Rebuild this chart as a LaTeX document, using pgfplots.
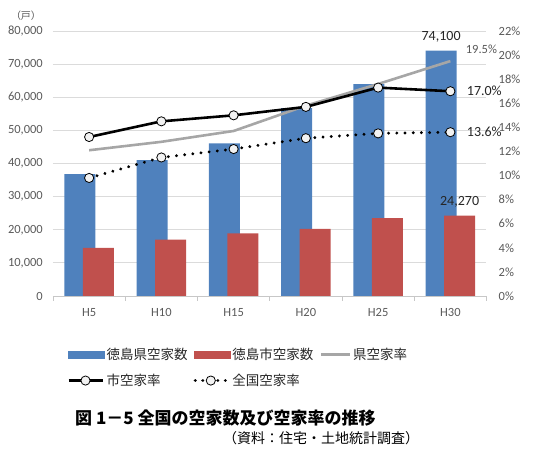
\documentclass[border=0pt]{standalone}
\usepackage{fontspec}
\setmainfont{Carlito}
\newfontfamily\jp{Noto Sans CJK JP}
\usepackage{pgfplots}
\pgfplotsset{compat=1.18}

\definecolor{barblue}{HTML}{4F81BD}
\definecolor{barred}{HTML}{C0504D}
\definecolor{linegrey}{HTML}{A6A6A6}
\definecolor{ticktext}{HTML}{595959}
\definecolor{markfill}{HTML}{F2F2F2}

\pgfplotsset{
  common/.style={
    at={(53pt,154pt)}, anchor=south west,
    scale only axis, width=433.5pt, height=265pt,
    xmin=-0.5, xmax=5.5, clip=false,
    /pgf/number format/assume math mode=true,
    tick label style={font=\fontsize{12.5}{14}\selectfont, text=ticktext},
  },
  rate/.style={line width=2.6pt, mark=*, mark size=4.6pt,
    mark options={solid, fill=markfill, draw=black, line width=0.8pt}},
}

\begin{document}
\begin{tikzpicture}
\useasboundingbox (0,0) rectangle (550pt,450pt);

% counts (left axis)
\begin{axis}[common,
    ymin=0, ymax=80000, ytick={0,10000,...,80000},
    /pgf/number format/.cd, 1000 sep={,}, /pgfplots/.cd,
    scaled y ticks=false,
    axis x line*=bottom, axis y line*=left,
    y axis line style={draw=none},
    x axis line style={draw=black!22, line width=0.8pt},
    ymajorgrids, grid style={draw=black!14, line width=0.8pt},
    ytick style={draw=none}, xtick style={draw=none},
    yticklabel style={inner sep=0pt, xshift=-10pt},
    xtick={0,...,5}, xticklabels={H5,H10,H15,H20,H25,H30},
    xticklabel style={inner sep=0pt, yshift=-12pt},
    extra x ticks={-0.5,0.5,1.5,2.5,3.5,4.5,5.5},
    extra x tick labels={},
    extra x tick style={major tick length=5pt, tick align=outside,
      xtick style={draw=black!22, line width=0.8pt}},
]
% 徳島県空家数
\addplot[ybar, fill=barblue, draw=none, bar width=0.43, bar shift=-0.128] coordinates {
  (0,36800) (1,41000) (2,46100) (3,56700) (4,64000) (5,74100)
};
% 徳島市空家数
\addplot[ybar, fill=barred, draw=none, bar width=0.43, bar shift=0.128] coordinates {
  (0,14500) (1,17000) (2,18900) (3,20300) (4,23500) (5,24270)
};
\node[anchor=base, font=\fontsize{14}{16}\selectfont, text=black!85, yshift=10pt]
  at (axis cs:4.872,74100) {74,100};
\node[anchor=base, font=\fontsize{14}{16}\selectfont, text=black!85, yshift=10pt]
  at (axis cs:5.128,24270) {24,270};
\end{axis}

% rates (right axis)
\begin{axis}[common,
    ymin=0, ymax=22, ytick={0,2,...,22},
    yticklabel={\pgfmathprintnumber{\tick}\%},
    axis x line=none, axis y line*=right,
    y axis line style={draw=none}, ytick style={draw=none},
    yticklabel style={inner sep=0pt, xshift=12pt},
    legend columns=3,
    legend cell align=left,
    legend style={at={(axis description cs:0,0)}, anchor=north west,
      xshift=14pt, yshift=-50pt, draw=none, fill=none, inner sep=0pt,
      font=\jp\fontsize{13.5}{16}\selectfont, text=black!85,
      row sep=9pt,
      /tikz/every even column/.append style={column sep=4pt}},
]
\addlegendimage{legend image code/.code={\fill[barblue] (0pt,-3.5pt) rectangle (36pt,3.5pt);}}
\addlegendentry{徳島県空家数}
\addlegendimage{legend image code/.code={\fill[barred] (0pt,-3.5pt) rectangle (36pt,3.5pt);}}
\addlegendentry{徳島市空家数}
% 県空家率
\addplot[linegrey, line width=2.6pt,
  legend image code/.code={\draw[linegrey, line width=2.6pt] (0pt,0pt) -- (29pt,0pt);}]
  coordinates {(0,12.1) (1,12.8) (2,13.7) (3,15.8) (4,17.6) (5,19.5)};
\addlegendentry{県空家率}
% 市空家率
\addplot[black, rate,
  legend image code/.code={
    \draw[black, line width=2.6pt] (0pt,0pt) -- (34pt,0pt);
    \draw[solid, fill=markfill, draw=black, line width=0.8pt] (17pt,0pt) circle (4.6pt);}]
  coordinates {(0,13.2) (1,14.5) (2,15.0) (3,15.7) (4,17.3) (5,17.0)};
\addlegendentry{市空家率}
% 全国空家率
\addplot[black, rate, line width=3.2pt, line cap=round, dash pattern=on 0.01pt off 8.2pt,
  legend image code/.code={
    \draw[black, line width=3.2pt, line cap=round, dash pattern=on 0.01pt off 7.5pt] (1pt,0pt) -- (33pt,0pt);
    \draw[solid, fill=markfill, draw=black, line width=0.8pt] (16.5pt,0pt) circle (4.6pt);}]
  coordinates {(0,9.8) (1,11.5) (2,12.2) (3,13.1) (4,13.5) (5,13.6)};
\addlegendentry{全国空家率}

\node[anchor=west, font=\fontsize{12.5}{14}\selectfont, text=ticktext, xshift=12pt, yshift=12pt]
  at (axis cs:5,19.5) {19.5\%};
\node[anchor=west, font=\fontsize{14}{16}\selectfont, text=black!85, xshift=13pt]
  at (axis cs:5,17.0) {17.0\%};
\node[anchor=west, font=\fontsize{14}{16}\selectfont, text=black!85, xshift=13pt]
  at (axis cs:5,13.6) {13.6\%};
\end{axis}

\node[font=\jp\fontsize{10}{12}\selectfont, text=ticktext] at (26pt,434pt) {（戸）};
\node[anchor=west, inner sep=0pt, font=\jp\bfseries\fontsize{17}{20}\selectfont]
  at (75pt,32pt) {図 1－5 全国の空家数及び空家率の推移};
\node[anchor=west, inner sep=0pt, font=\jp\fontsize{14}{16}\selectfont]
  at (223pt,12pt) {（資料：住宅・土地統計調査）};
\end{tikzpicture}
\end{document}
